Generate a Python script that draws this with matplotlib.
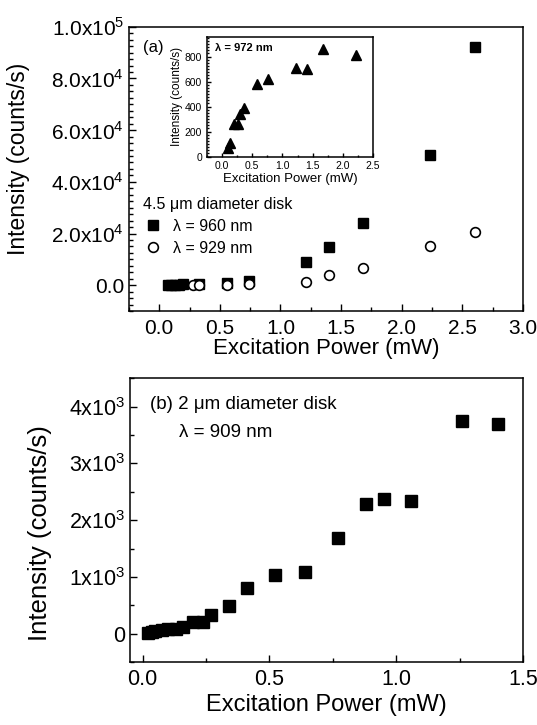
import matplotlib
matplotlib.use("Agg")
import matplotlib.pyplot as plt
from matplotlib.ticker import MultipleLocator, FixedLocator, FixedFormatter

plt.rcParams['font.family'] = ['Liberation Sans', 'DejaVu Sans']
plt.rcParams['mathtext.fontset'] = 'custom'
plt.rcParams['mathtext.rm'] = 'Liberation Sans'
plt.rcParams['axes.linewidth'] = 1.1

# panel (a): 4.5 um disk
power_960 = [0.07, 0.10, 0.13, 0.16, 0.20, 0.33, 0.56, 0.74, 1.21, 1.40, 1.68, 2.23, 2.60]
inten_960 = [100, 150, 200, 250, 300, 600, 900, 1800, 9000, 14600, 23900, 50200, 92000]
power_929 = [0.28, 0.33, 0.56, 0.74, 1.21, 1.40, 1.68, 2.23, 2.60]
inten_929 = [50, 80, 250, 300, 1400, 3900, 6600, 15200, 20400]

# inset: lambda = 972 nm
power_972 = [0.09, 0.13, 0.19, 0.26, 0.30, 0.36, 0.58, 0.76, 1.22, 1.40, 1.67, 2.22]
inten_972 = [67, 112, 261, 261, 339, 392, 584, 624, 712, 701, 861, 813]

# panel (b): 2 um disk, lambda = 909 nm
power_909 = [0.02, 0.035, 0.05, 0.075, 0.10, 0.13, 0.16, 0.20, 0.24, 0.27,
             0.34, 0.41, 0.52, 0.64, 0.77, 0.88, 0.95, 1.06, 1.26, 1.40]
inten_909 = [12, 30, 47, 60, 88, 88, 118, 206, 206, 335,
             488, 812, 1030, 1088, 1680, 2292, 2375, 2345, 3742, 3700]

ticks_a = [0, 20000, 40000, 60000, 80000, 100000]
labels_a = ['0.0', '2.0x10$^{4}$', '4.0x10$^{4}$', '6.0x10$^{4}$', '8.0x10$^{4}$', '1.0x10$^{5}$']
ticks_b = [0, 1000, 2000, 3000, 4000]
labels_b = ['0', '1x10$^{3}$', '2x10$^{3}$', '3x10$^{3}$', '4x10$^{3}$']


def style(ax, size):
    ax.tick_params(which='both', direction='in', top=False, right=False,
                   labelsize=size, width=1.0)
    ax.tick_params(which='major', length=5)
    ax.tick_params(which='minor', length=3)


fig = plt.figure(figsize=(5.37, 7.25), dpi=100)

# top panel
ax1 = fig.add_axes([0.240, 0.571, 0.734, 0.392])
ax1.plot(power_960, inten_960, 's', color='black', ms=7.5, label='λ = 960 nm')
ax1.plot(power_929, inten_929, 'o', mfc='white', mec='black', mew=1.2, ms=7,
         label='λ = 929 nm')
ax1.set_xlim(-0.25, 3.0)
ax1.set_ylim(-10000, 100000)
ax1.xaxis.set_major_locator(MultipleLocator(0.5))
ax1.xaxis.set_minor_locator(MultipleLocator(0.25))
ax1.yaxis.set_major_locator(FixedLocator(ticks_a))
ax1.yaxis.set_major_formatter(FixedFormatter(labels_a))
ax1.yaxis.set_minor_locator(MultipleLocator(2500))
style(ax1, 15)
ax1.tick_params(axis='x', pad=6)
ax1.set_xlabel('Excitation Power (mW)', fontsize=16, labelpad=0)
ax1.set_ylabel('Intensity (counts/s)', fontsize=16.5)
ax1.yaxis.set_label_coords(-0.251, 0.535)
ax1.text(0.035, 0.929, '(a)', transform=ax1.transAxes, fontsize=12, va='center')
ax1.legend(loc='upper left', bbox_to_anchor=(0.012, 0.436), frameon=False,
           title='4.5 μm diameter disk', title_fontsize=11.5, fontsize=11.5,
           alignment='left', handlelength=1.2, handletextpad=0.65,
           labelspacing=0.45, borderaxespad=0.2)

# inset
ax_in = fig.add_axes([0.3855, 0.784, 0.309, 0.1655])
ax_in.plot(power_972, inten_972, '^', color='black', ms=6.5)
ax_in.set_xlim(-0.25, 2.5)
ax_in.set_ylim(0, 960)
ax_in.xaxis.set_major_locator(MultipleLocator(0.5))
ax_in.xaxis.set_minor_locator(MultipleLocator(0.25))
ax_in.yaxis.set_major_locator(MultipleLocator(200))
ax_in.yaxis.set_minor_locator(MultipleLocator(25))
style(ax_in, 7.5)
ax_in.tick_params(which='major', length=3)
ax_in.tick_params(which='minor', length=1.5)
ax_in.set_xlabel('Excitation Power (mW)', fontsize=9.5, labelpad=1)
ax_in.set_ylabel('Intensity (counts/s)', fontsize=8.5, labelpad=1)
ax_in.text(0.05, 0.906, 'λ = 972 nm', transform=ax_in.transAxes, fontsize=8,
           va='center', fontweight='bold')

# bottom panel
ax2 = fig.add_axes([0.242, 0.0865, 0.732, 0.3917])
ax2.plot(power_909, inten_909, 's', color='black', ms=8)
ax2.set_xlim(-0.05, 1.5)
ax2.set_ylim(-500, 4500)
ax2.xaxis.set_major_locator(MultipleLocator(0.5))
ax2.xaxis.set_minor_locator(MultipleLocator(0.25))
ax2.yaxis.set_major_locator(FixedLocator(ticks_b))
ax2.yaxis.set_major_formatter(FixedFormatter(labels_b))
ax2.yaxis.set_minor_locator(MultipleLocator(500))
style(ax2, 15.5)
ax2.tick_params(axis='x', pad=5)
ax2.set_xlabel('Excitation Power (mW)', fontsize=17, labelpad=3)
ax2.set_ylabel('Intensity (counts/s)', fontsize=18.5)
ax2.yaxis.set_label_coords(-0.198, 0.455)
ax2.text(0.05, 0.906, '(b) 2 μm diameter disk', transform=ax2.transAxes,
         fontsize=13.5, va='center')
ax2.text(0.125, 0.808, 'λ = 909 nm', transform=ax2.transAxes,
         fontsize=13.5, va='center')

fig.savefig('out.png', dpi=100)
